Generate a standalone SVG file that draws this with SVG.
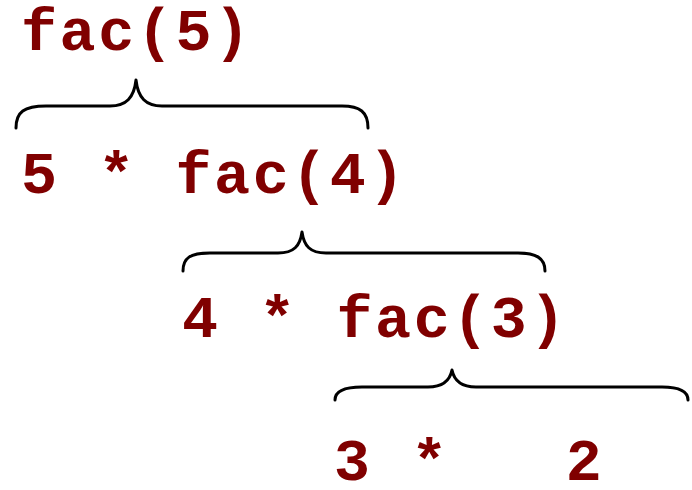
<svg xmlns="http://www.w3.org/2000/svg" width="692" height="490" viewBox="0 0 692 490">
  <style>
    .expr { font-family: "Liberation Mono", "Courier New", monospace; font-weight: bold; font-size: 60px; letter-spacing: 2.6px; fill: #800000; white-space: pre; }
    .brace { fill: none; stroke: #000000; stroke-width: 3; stroke-linecap: round; stroke-linejoin: round; }
  </style>
  <rect width="692" height="490" fill="#ffffff"/>

  <!-- expansion steps of fac(5) -->
  <g id="step-fac5">
    <text class="expr" x="21" y="50">fac(5)</text>
  </g>
  <g id="step-fac4">
    <text class="expr" x="21" y="193">5 * fac(4)</text>
  </g>
  <g id="step-fac3">
    <text class="expr" x="182" y="337">4 * fac(3)</text>
  </g>
  <g id="step-result">
    <text class="expr" x="334" y="480" xml:space="preserve">3 *   2</text>
  </g>

  <!-- curly braces linking each call to its expansion -->
  <g id="connectors">
    <path class="brace" d="M16,128 C16,112 24,106 46,106 L110,106 C126,106 134,98 136,80 C138,98 146,106 162,106 L342,106 C360,106 368,112 368,128"/>
    <path class="brace" d="M183,271 C183,258 190,253 210,253 L278,253 C294,253 300,246 302,232 C304,246 310,253 326,253 L518,253 C536,253 545,258 545,271"/>
    <path class="brace" d="M335,400 C335,392 342,387 362,387 L428,387 C444,387 450,380 452,370 C454,380 460,387 476,387 L662,387 C680,387 688,392 688,400"/>
  </g>
</svg>
